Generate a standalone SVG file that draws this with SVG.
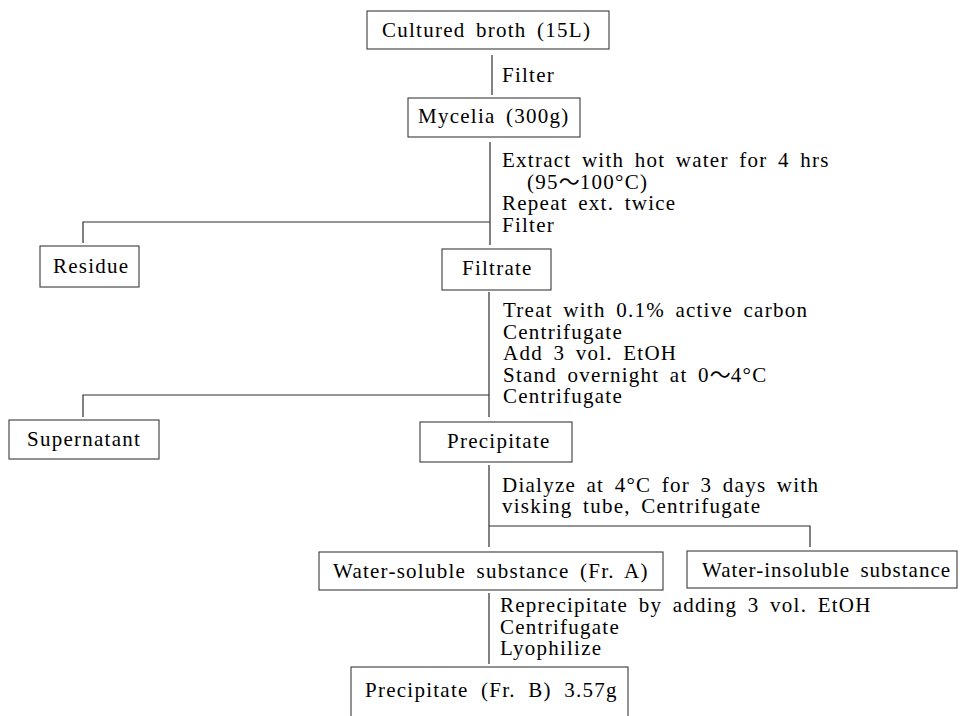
<svg xmlns="http://www.w3.org/2000/svg" width="961" height="716" viewBox="0 0 961 716">
<style>
.bx{fill:none;stroke:#3a3a3a;stroke-width:1.1}
.ln{fill:none;stroke:#2e2e2e;stroke-width:1.2}
.t{font-family:"Liberation Serif","Times New Roman","DejaVu Serif",serif;font-size:21px;letter-spacing:1.25px;word-spacing:4px;fill:#000}
.w{font-family:"Noto Sans CJK JP",sans-serif;letter-spacing:0}
</style>
<rect x="0" y="0" width="961" height="716" fill="#fff"/>
<g id="connectors">
  <line class="ln" x1="492" y1="55" x2="492" y2="95"/>
  <line class="ln" x1="490" y1="142" x2="490" y2="245"/>
  <polyline class="ln" points="490,222 83,222 83,243"/>
  <line class="ln" x1="489" y1="292" x2="489" y2="417"/>
  <polyline class="ln" points="489,395 83,395 83,417"/>
  <line class="ln" x1="489" y1="465" x2="489" y2="547"/>
  <polyline class="ln" points="489,526 810,526 810,547"/>
  <line class="ln" x1="489" y1="593" x2="489" y2="664"/>
</g>
<g id="labels" class="t">
  <text x="502" y="167">Extract with hot water for 4 hrs</text>
  <text x="527" y="189">(95<tspan class="w">〜</tspan>100°C)</text>
  <text x="502" y="210">Repeat ext. twice</text>
  <text x="502" y="232">Filter</text>
  <text x="503" y="317">Treat with 0.1% active carbon</text>
  <text x="503" y="338.5">Centrifugate</text>
  <text x="503" y="360">Add 3 vol. EtOH</text>
  <text x="503" y="381.5">Stand overnight at 0<tspan class="w">〜</tspan>4°C</text>
  <text x="503" y="403">Centrifugate</text>
  <text x="502" y="492">Dialyze at 4°C for 3 days with</text>
  <text x="502" y="513">visking tube, Centrifugate</text>
  <text x="500" y="612">Reprecipitate by adding 3 vol. EtOH</text>
  <text x="500" y="634">Centrifugate</text>
  <text x="500" y="655">Lyophilize</text>
  <text x="502" y="82">Filter</text>
</g>
<g id="broth" class="t"><rect class="bx" x="367" y="11" width="242" height="38"/><text x="382" y="37">Cultured broth (15L)</text></g>
<g id="mycelia" class="t"><rect class="bx" x="408" y="98" width="172" height="39"/><text x="418" y="123">Mycelia (300g)</text></g>
<g id="residue" class="t"><rect class="bx" x="40" y="246" width="99" height="41"/><text x="53" y="273">Residue</text></g>
<g id="filtrate" class="t"><rect class="bx" x="442" y="249" width="109" height="41"/><text x="462" y="275">Filtrate</text></g>
<g id="supernatant" class="t"><rect class="bx" x="9" y="420" width="150" height="39"/><text x="27" y="446">Supernatant</text></g>
<g id="precipitate" class="t"><rect class="bx" x="420" y="422" width="152" height="40"/><text x="447" y="448">Precipitate</text></g>
<g id="frA" class="t"><rect class="bx" x="319" y="552" width="344" height="38"/><text x="333" y="578">Water-soluble substance (Fr. A)</text></g>
<g id="insoluble" class="t"><rect class="bx" x="687" y="551" width="270" height="37"/><text x="702" y="577" style="letter-spacing:1px">Water-insoluble substance</text></g>
<g id="frB" class="t"><rect class="bx" x="351" y="667" width="277" height="52"/><text x="365" y="697" style="word-spacing:6px">Precipitate (Fr. B) 3.57g</text></g>
</svg>
